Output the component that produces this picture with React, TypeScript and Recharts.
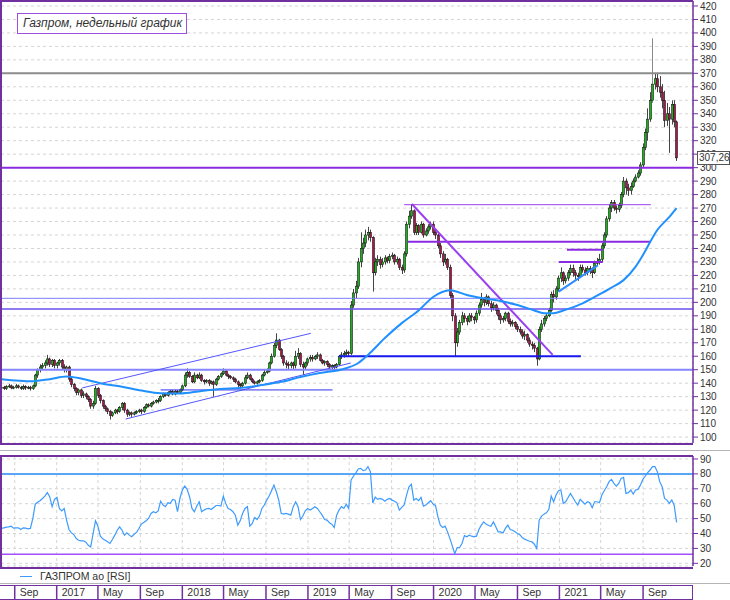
import {
  Bar,
  CartesianGrid,
  ComposedChart,
  Line,
  ReferenceLine,
  XAxis,
  YAxis,
} from 'recharts'

// weekly candles, index 0 = late Jul 2016
const closes = [
  137, 136, 137.5, 138, 136.5, 137, 138, 137, 136, 137.5,
  136.5, 137, 136, 138, 146, 150, 152, 153, 155, 158,
  154, 157, 153, 155, 157, 152, 150, 152, 143, 139,
  136, 133, 135, 131, 132, 130, 128, 123, 125, 136,
  131, 127, 123, 121, 119, 116, 118, 120, 119, 122,
  125, 120, 117, 118, 117, 118, 119, 120, 119, 122,
  124, 123, 125, 126, 127, 127, 130, 132, 131, 133,
  134, 132, 134, 133, 135, 138, 146, 148, 145, 141,
  146, 144, 146, 142, 141, 142, 140, 141, 139, 143,
  145, 147, 149, 146, 145, 144, 143, 141, 139, 138,
  140, 144, 146, 143, 141, 140, 141, 142, 146, 148,
  149, 155, 160, 168, 172, 165, 160, 155, 154, 153,
  155, 153, 160, 162, 154, 152, 155, 158, 159, 158,
  160, 161, 157, 155, 156, 154, 152, 153, 152, 154,
  160, 161, 162, 163, 162, 198, 207, 212, 230, 240,
  244, 250, 252, 248, 222, 230, 232, 228, 230, 233,
  231, 234, 235, 230, 232, 226, 224, 236, 258, 264,
  268, 252, 257, 252, 258, 250, 253, 256, 258, 252,
  250, 242, 236, 230, 232, 226, 205, 190, 170, 178,
  185, 190, 188, 186, 190, 189, 187, 192, 198, 202,
  200, 204, 199, 196, 198, 194, 190, 187, 188, 192,
  186, 184, 185, 182, 180, 178, 175, 176, 172, 169,
  168, 166, 158, 180, 184, 188, 190, 194, 206, 204,
  210, 218, 222, 216, 218, 222, 225, 222, 220, 219,
  226, 224, 222, 225, 224, 222, 229, 230, 232, 242,
  250, 262, 270, 274, 270, 269, 272, 280, 290, 285,
  283, 286, 290, 293, 296, 302, 315, 326, 336, 350,
  362, 366, 360, 356, 350, 335, 340, 336, 347, 334,
  307.26,
]

const opens = [
  136.5, 137, 136, 137.5, 138, 136.5, 137, 138, 137, 136,
  137.5, 136.5, 137, 136, 138, 146, 150, 152, 153, 155,
  158, 154, 157, 153, 155, 157, 152, 150, 152, 143,
  139, 136, 133, 135, 131, 132, 130, 128, 123, 125,
  136, 131, 127, 123, 121, 119, 116, 118, 120, 119,
  122, 125, 120, 117, 118, 117, 118, 119, 120, 119,
  122, 124, 123, 125, 126, 127, 127, 130, 132, 131,
  133, 134, 132, 134, 133, 135, 138, 146, 148, 145,
  141, 146, 144, 146, 142, 141, 142, 140, 141, 139,
  143, 145, 147, 149, 146, 145, 144, 143, 141, 139,
  138, 140, 144, 146, 143, 141, 140, 141, 142, 146,
  148, 149, 155, 160, 168, 172, 165, 160, 155, 154,
  153, 155, 153, 160, 162, 154, 152, 155, 158, 159,
  158, 160, 161, 157, 155, 156, 154, 152, 153, 152,
  154, 160, 161, 162, 163, 162, 198, 207, 212, 230,
  240, 244, 250, 252, 248, 222, 230, 232, 228, 230,
  233, 231, 234, 235, 230, 232, 226, 224, 236, 258,
  264, 268, 252, 257, 252, 258, 250, 253, 256, 258,
  252, 250, 242, 236, 230, 232, 226, 205, 190, 170,
  178, 185, 190, 188, 186, 190, 189, 187, 192, 198,
  202, 200, 204, 199, 196, 198, 194, 190, 187, 188,
  192, 186, 184, 185, 182, 180, 178, 175, 176, 172,
  169, 168, 166, 158, 180, 184, 188, 190, 194, 206,
  204, 210, 218, 222, 216, 218, 222, 225, 222, 220,
  219, 226, 224, 222, 225, 224, 222, 229, 230, 232,
  242, 250, 262, 270, 274, 270, 269, 272, 280, 290,
  285, 283, 286, 290, 293, 296, 302, 315, 326, 336,
  350, 362, 366, 360, 356, 350, 335, 340, 336, 347,
  334,
]

const highs = [
  138.5, 138, 138.5, 139.5, 139, 138, 139.5, 139, 138, 139,
  138.5, 138, 138, 139, 147, 151, 154, 155, 157, 161,
  159, 158, 158, 156, 158, 158, 154, 153, 153, 145,
  140, 137, 136, 136, 134, 133, 131, 129, 127, 138,
  137, 132, 128, 124, 122, 120, 119, 121, 121, 123,
  126, 126, 121, 119, 119, 119, 120, 121, 121, 123,
  125, 125, 126, 127, 128, 129, 131, 133, 133, 134,
  135, 135, 135, 135, 136, 139, 148, 151, 149, 146,
  148, 147, 148, 147, 143, 143, 143, 142, 142, 144,
  146, 148, 151, 150, 147, 146, 145, 144, 142, 140,
  141, 146, 148, 147, 144, 142, 142, 143, 147, 150,
  151, 156, 162, 170, 177, 173, 166, 161, 157, 156,
  156, 156, 164, 166, 163, 156, 156, 159, 161, 161,
  161, 163, 162, 158, 157, 157, 155, 154, 154, 155,
  161, 163, 164, 165, 164, 201, 210, 216, 233, 252,
  248, 254, 256, 254, 249, 233, 235, 234, 233, 235,
  234, 236, 237, 236, 234, 233, 228, 238, 260, 268,
  273, 269, 259, 258, 260, 259, 255, 258, 260, 260,
  254, 251, 244, 238, 236, 233, 228, 207, 192, 181,
  187, 193, 192, 190, 192, 192, 190, 194, 200, 207,
  204, 206, 205, 201, 200, 199, 196, 192, 190, 193,
  193, 188, 187, 186, 184, 182, 180, 179, 177, 174,
  171, 170, 167, 182, 187, 190, 192, 196, 208, 209,
  212, 220, 226, 223, 220, 224, 228, 228, 224, 222,
  228, 228, 226, 227, 227, 226, 231, 233, 236, 244,
  252, 264, 273, 276, 276, 272, 274, 282, 293, 292,
  288, 289, 292, 295, 298, 304, 318, 329, 344, 356,
  396, 370, 370, 368, 362, 357, 348, 345, 350, 350,
  335,
]

const lows = [
  135, 135, 135, 136.5, 135.5, 135.5, 136, 136, 135, 135,
  135, 135.5, 134.5, 135, 137, 144, 148, 150, 151, 153,
  152, 152, 151, 151, 153, 150, 148, 148, 141, 137,
  134, 131, 131, 129, 129, 128, 126, 121, 121, 124,
  129, 125, 121, 119, 117, 113, 115, 117, 117, 118,
  120, 118, 115, 115.5, 115, 116, 117, 118, 117, 118,
  121, 122, 122, 124, 125, 125, 126, 129, 130, 130,
  132, 131, 131, 132, 132, 134, 137, 144, 144, 140,
  140, 143, 143, 141, 139, 140, 138, 139, 130, 138,
  142, 144, 146, 145, 143, 143, 141, 140, 137, 136,
  137, 139, 143, 142, 140, 139, 139, 140, 141, 145,
  147, 148, 154, 159, 166, 164, 158, 153, 151, 150,
  151, 150, 151, 158, 152, 146, 150, 153, 156, 156,
  157, 158, 156, 154, 153, 152, 150, 150, 150, 151,
  153, 158, 159, 160, 160, 161, 196, 203, 210, 226,
  236, 241, 246, 245, 208, 220, 227, 225, 226, 228,
  229, 229, 232, 228, 228, 224, 221, 222, 234, 255,
  262, 250, 250, 250, 251, 248, 249, 251, 254, 250,
  247, 240, 233, 227, 228, 224, 203, 186, 160, 167,
  176, 183, 185, 183, 185, 186, 184, 185, 190, 196,
  197, 198, 197, 193, 194, 191, 187, 184, 185, 186,
  184, 182, 182, 180, 178, 176, 173, 172, 170, 167,
  165, 163, 153, 157, 178, 182, 186, 189, 193, 200,
  202, 208, 215, 213, 214, 216, 220, 219, 217, 216,
  218, 222, 220, 220, 221, 218, 221, 227, 228, 230,
  240, 248, 260, 267, 268, 266, 267, 270, 278, 280,
  279, 280, 285, 289, 292, 294, 300, 313, 320, 334,
  348, 358, 356, 352, 344, 330, 331, 311, 332, 330,
  305,
]

const rsiValues = [
  43.4, 43.8, 44.3, 44.5, 44.9, 43.6, 43.8, 43.8, 42.7, 43.8,
  43.6, 43.1, 43.4, 50.1, 59.7, 60.9, 62, 63.5, 65.1, 67.4,
  64.7, 58, 62.9, 64.2, 56.8, 55.2, 56.8, 49, 42.7, 40.4,
  39.3, 36.6, 35.5, 35.1, 35.1, 34.2, 32.1, 31, 40, 48.5,
  44.9, 38.2, 36.4, 35.5, 34.4, 33.3, 36, 38.9, 42.2, 44.5,
  42.2, 38.9, 40.4, 38.9, 37.8, 39.5, 40.7, 43.4, 46.3, 47.4,
  48.5, 50.1, 53.5, 54.6, 53.9, 55.2, 61.7, 59.1, 58, 60.6,
  60.2, 62.9, 62.4, 54.6, 63.5, 69.2, 71.8, 69.6, 64.7, 56.8,
  54.6, 58.4, 61.3, 54.6, 55.7, 56.6, 56.8, 56.1, 57.5, 58.8,
  58.8, 58.4, 65.1, 60.2, 56.8, 56.1, 54.6, 52.3, 45.6, 48.5,
  53.5, 56.8, 58, 44.9, 46.7, 50.8, 49.4, 51.7, 56.8, 59.1,
  62.4, 65.1, 68.7, 72.5, 68, 62.4, 53.5, 53, 53.5, 53,
  52.3, 58, 61.3, 58, 49.4, 51.7, 55.2, 56.8, 55.7, 56.8,
  58, 56.8, 54.6, 52.3, 49.4, 49, 47.2, 46.3, 44, 52.3,
  55.7, 58, 56.8, 59.7, 56.8, 75.9, 78.6, 80.8, 83.3, 83.7,
  82.2, 82.6, 84.9, 81.5, 60.5, 64.5, 62.9, 63.5, 62.9, 61.7,
  62.9, 63.5, 62.4, 61.7, 60.6, 55.7, 57.5, 59.1, 65.8, 71.4,
  73, 62.4, 63.5, 62, 64.2, 58.4, 59.1, 60.6, 62, 59.7,
  58.8, 51.2, 45.6, 44, 44.9, 41.1, 36.6, 31.5, 26.5, 30.6,
  30.6, 33.3, 38.6, 37.8, 38.9, 38.2, 37.8, 38.2, 42.7, 45.6,
  47.8, 46.3, 45.4, 44.9, 47.8, 44.5, 41.1, 41.1, 40.4, 43.4,
  45.6, 42.7, 42.2, 41.1, 40, 39.1, 37.3, 36.2, 35.5, 34.8,
  34.4, 32.8, 29.9, 49, 51.7, 53, 53.9, 56.1, 65.1, 61.3,
  65.8, 68.7, 69.2, 60.2, 61.3, 64.2, 66.9, 64.2, 61.3, 59.1,
  62.9, 61.3, 59.7, 61.3, 60.6, 57.3, 61.3, 61.3, 60.6, 65.8,
  68.7, 71.4, 74.8, 76.3, 73.6, 71.8, 73.6, 77, 77.7, 66.9,
  67.4, 69.2, 66.5, 69.2, 69.6, 72.5, 76.3, 78.6, 80.8, 82.6,
  84.9, 84.9, 81.5, 74.8, 71.4, 63.5, 62.4, 60.2, 62.5, 59,
  47.5,
]

// moving average at these weeks
const maWeeks = [
  0, 13, 20, 27, 33, 41, 50, 58, 66, 74, 83, 91, 99, 108, 116, 124, 132, 141, 148, 152, 159,
  166, 173, 179, 186, 193, 200, 207, 214, 221, 225, 229, 233, 240, 247, 253, 258, 263, 266,
  272, 277, 280,
]
const maValues = [
  143, 141.5, 143, 145, 143.5, 140, 137.4, 134.5, 132.5, 132.3, 134.2, 135.6, 136.5, 138.6,
  141, 144.6, 147.6, 150.2, 155, 161, 173.5, 184.6, 194, 204, 209, 205.5, 203, 201, 198, 194,
  192, 192, 194, 198.5, 205, 211, 216.5, 226.5, 235, 253.7, 263.5, 270,
]

const timeTicks = [5.5, 22.9, 40, 57.6, 75, 92.1, 109.7, 127.1, 144.2, 161.8, 179.2, 196.4, 214, 231.4, 248.5, 266.1]
const timeLabels = ['Sep', '2017', 'May', 'Sep', '2018', 'May', 'Sep', '2019', 'May', 'Sep', '2020', 'May', 'Sep', '2021', 'May', 'Sep']

const priceTicks = [
  100, 110, 120, 130, 140, 150, 160, 170, 180, 190, 200, 210, 220, 230, 240, 250, 260, 270,
  280, 290, 300, 310, 320, 330, 340, 350, 360, 370, 380, 390, 400, 410, 420,
]
const rsiTicks = [20, 30, 40, 50, 60, 70, 80, 90]

const lastPrice = 307.26
const rsiUpper = 80
const rsiLower = 26

// drawn levels and trend lines (week, price)
const levelResistance = 370
const levelMain = 300
const levelsThin = [203, 195]
const levelSupport = 150
const supportSegment = [{ x: 140, y: 160 }, { x: 240.3, y: 160 }]
const midSegment = [{ x: 168.5, y: 245 }, { x: 269.3, y: 245 }]
const topSegment = [{ x: 167, y: 272.5 }, { x: 269.3, y: 272.5 }]
const downTrend = [{ x: 170.2, y: 273 }, { x: 228.6, y: 161 }]
const channelUpper = [{ x: 33.5, y: 136.5 }, { x: 128.3, y: 177 }]
const channelLower = [{ x: 51.5, y: 113.4 }, { x: 144.9, y: 155 }]
const channelBase = [{ x: 66, y: 135 }, { x: 137.3, y: 135 }]
const boxTop = [{ x: 234.5, y: 239 }, { x: 249.4, y: 239 }]
const boxBottom = [{ x: 231.1, y: 230 }, { x: 249.4, y: 230 }]
const boxTrend = [{ x: 231.1, y: 208 }, { x: 247.3, y: 227.5 }]

const rows = closes.map((close, i) => {
  const k = maWeeks.indexOf(i)
  return {
    week: i,
    open: opens[i],
    high: highs[i],
    low: lows[i],
    close,
    range: [lows[i], highs[i]],
    rsi: rsiValues[i],
    ma: k >= 0 ? maValues[k] : null,
  }
})

const PURPLE = '#7030a0'
const TEXT = '#333'
const PRICE_DOMAIN = [95.6, 423.7]
const PLOT_TOP = 1
const PLOT_HEIGHT = 442
// pixel row of the last price, for the boxed tag laid over the axis
const lastPriceY =
  PLOT_TOP + ((PRICE_DOMAIN[1] - lastPrice) / (PRICE_DOMAIN[1] - PRICE_DOMAIN[0])) * PLOT_HEIGHT

function Candle(props: any) {
  const { x, y, width, height, payload } = props
  if (!payload) return null
  const { open, close, high, low } = payload
  const top = Math.min(y, y + height)
  const bottom = Math.max(y, y + height)
  const ppu = (bottom - top) / (high - low || 1)
  const cx = Math.round(x + width / 2) + 0.5
  const bodyTop = top + (high - Math.max(open, close)) * ppu
  const bodyBottom = top + (high - Math.min(open, close)) * ppu
  const up = close >= open
  return (
    <g>
      <line x1={cx} x2={cx} y1={top} y2={bottom} stroke={high > 380 ? '#8a8a8a' : '#444'} strokeWidth={1} />
      <rect
        x={cx - 1}
        y={bodyTop}
        width={2}
        height={Math.max(1, bodyBottom - bodyTop)}
        fill={up ? '#14b414' : '#b0124c'}
        stroke="#1a1a1a"
        strokeWidth={0.6}
      />
    </g>
  )
}

function TimeTick(props: any) {
  const { x, y, payload } = props
  const label = timeLabels[timeTicks.indexOf(payload.value)]
  return (
    <g>
      <line x1={x} x2={x} y1={y + 19} y2={y + 33} stroke={PURPLE} strokeWidth={1.5} />
      <text x={x + 5} y={y + 30} fontSize={10.5} fill={TEXT}>
        {label}
      </text>
    </g>
  )
}

export default function App() {
  return (
    <div
      style={{
        position: 'absolute',
        left: 0,
        top: 0,
        width: 730,
        height: 600,
        background: '#fff',
        fontFamily: '"Liberation Sans", Arial, sans-serif',
        overflow: 'hidden',
      }}
    >
      <div style={{ position: 'absolute', left: 0, top: 0 }}>
        <ComposedChart width={730} height={444} data={rows} margin={{ top: 1, right: 0, bottom: 0, left: 1 }}>
          <CartesianGrid stroke="#d4d4d4" strokeDasharray="3 3" />
          <XAxis
            type="number"
            dataKey="week"
            domain={[-0.2, 286.8]}
            ticks={timeTicks}
            height={1}
            tick={false}
            tickLine={false}
            axisLine={false}
            allowDataOverflow
          />
          <YAxis
            orientation="right"
            domain={PRICE_DOMAIN}
            ticks={priceTicks}
            interval={0}
            width={37}
            allowDataOverflow
            tick={{ fontSize: 10, fill: TEXT }}
            tickSize={5}
            tickMargin={2}
            stroke={PURPLE}
            axisLine={{ stroke: PURPLE, strokeWidth: 1.5 }}
            tickLine={{ stroke: PURPLE }}
          />
          <ReferenceLine y={levelResistance} stroke="#8c8c8c" strokeWidth={2} />
          <ReferenceLine y={levelMain} stroke="#8a2be2" strokeWidth={2} />
          <ReferenceLine y={levelsThin[0]} stroke="#7d7dff" strokeWidth={1} />
          <ReferenceLine y={levelsThin[1]} stroke="#6a50ee" strokeWidth={1.5} />
          <ReferenceLine y={levelSupport} stroke="#8585ff" strokeWidth={2} />
          <ReferenceLine segment={channelUpper} stroke="#5555ff" strokeWidth={1} />
          <ReferenceLine segment={channelLower} stroke="#5555ff" strokeWidth={1} />
          <ReferenceLine segment={channelBase} stroke="#3333ee" strokeWidth={1} />
          <ReferenceLine segment={supportSegment} stroke="#1717f0" strokeWidth={2} />
          <ReferenceLine segment={topSegment} stroke="#9a40f0" strokeWidth={1} />
          <ReferenceLine segment={midSegment} stroke="#8a2be2" strokeWidth={2} />
          <ReferenceLine segment={downTrend} stroke="#9a3ff0" strokeWidth={2} />
          <ReferenceLine segment={boxTop} stroke="#8a2be2" strokeWidth={2} />
          <ReferenceLine segment={boxBottom} stroke="#8a2be2" strokeWidth={2} />
          <ReferenceLine segment={boxTrend} stroke="#2e8cff" strokeWidth={2} />
          <Line
            type="monotone"
            dataKey="ma"
            stroke="#2090ff"
            strokeWidth={2}
            dot={false}
            connectNulls
            isAnimationActive={false}
          />
          <Bar dataKey="range" barSize={2} shape={Candle} isAnimationActive={false} />
        </ComposedChart>
      </div>

      {/* main panel frame */}
      <div
        style={{
          position: 'absolute',
          left: 0,
          top: 0,
          width: 691,
          height: 441,
          borderLeft: `2px solid ${PURPLE}`,
          borderTop: `2px solid ${PURPLE}`,
          borderBottom: `2px solid ${PURPLE}`,
          pointerEvents: 'none',
        }}
      />

      {/* last price tag, covers the axis label behind it */}
      <div
        style={{
          position: 'absolute',
          left: 697,
          top: lastPriceY - 7,
          width: 30,
          height: 12,
          border: '1px solid #555',
          background: '#fff',
          fontSize: 10,
          lineHeight: '12px',
          color: TEXT,
          paddingLeft: 1,
        }}
      >
        {String(lastPrice).replace('.', ',')}
      </div>

      <div
        style={{
          position: 'absolute',
          left: 17,
          top: 13,
          width: 163,
          height: 19,
          border: '1px solid #9b4fe0',
          background: '#fff',
          fontStyle: 'italic',
          fontSize: 12,
          color: TEXT,
          lineHeight: '19px',
          paddingLeft: 5,
          boxSizing: 'content-box',
        }}
      >
        Газпром, недельный график
      </div>

      <div style={{ position: 'absolute', left: 0, top: 449.5, width: 730, height: 0, borderTop: '1px solid #b5b5b5' }} />

      <div style={{ position: 'absolute', left: 0, top: 455 }}>
        <ComposedChart width={730} height={145} data={rows} margin={{ top: 1, right: 0, bottom: 0, left: 1 }}>
          <CartesianGrid stroke="#d4d4d4" strokeDasharray="3 3" />
          <XAxis
            type="number"
            dataKey="week"
            domain={[-0.2, 286.8]}
            ticks={timeTicks}
            interval={0}
            height={34}
            tick={<TimeTick />}
            tickLine={false}
            axisLine={false}
            tickSize={0}
            tickMargin={0}
            allowDataOverflow
          />
          <YAxis
            orientation="right"
            domain={[18.2, 92]}
            ticks={rsiTicks}
            interval={0}
            width={37}
            allowDataOverflow
            tick={{ fontSize: 10, fill: TEXT }}
            tickSize={5}
            tickMargin={2}
            axisLine={{ stroke: PURPLE, strokeWidth: 1.5 }}
            tickLine={{ stroke: PURPLE }}
          />
          <ReferenceLine y={rsiUpper} stroke="#5aa5f5" strokeWidth={2} />
          <ReferenceLine y={rsiLower} stroke="#a64dff" strokeWidth={1.5} />
          <Line
            type="linear"
            dataKey="rsi"
            stroke="#3d9bff"
            strokeWidth={1.2}
            dot={false}
            isAnimationActive={false}
          />
        </ComposedChart>
      </div>

      {/* RSI panel frame */}
      <div
        style={{
          position: 'absolute',
          left: 0,
          top: 455,
          width: 691,
          height: 110,
          borderLeft: `2px solid ${PURPLE}`,
          borderTop: `2px solid ${PURPLE}`,
          borderBottom: `2px solid ${PURPLE}`,
          pointerEvents: 'none',
        }}
      />

      <div style={{ position: 'absolute', left: 20, top: 576, width: 12, borderTop: '1.5px solid #3d9bff' }} />
      <div style={{ position: 'absolute', left: 40, top: 569, fontSize: 10.5, color: TEXT, lineHeight: '14px' }}>
        ГАЗПРОМ ао [RSI]
      </div>

      <div style={{ position: 'absolute', left: 0, top: 583, width: 730, height: 0, borderTop: '1px solid #b5b5b5' }} />
      <div
        style={{
          position: 'absolute',
          left: 0,
          top: 585,
          width: 692,
          height: 13,
          borderTop: `1px solid ${PURPLE}`,
          borderBottom: `2px solid ${PURPLE}`,
          borderRight: `1.5px solid ${PURPLE}`,
          pointerEvents: 'none',
        }}
      />
    </div>
  )
}
